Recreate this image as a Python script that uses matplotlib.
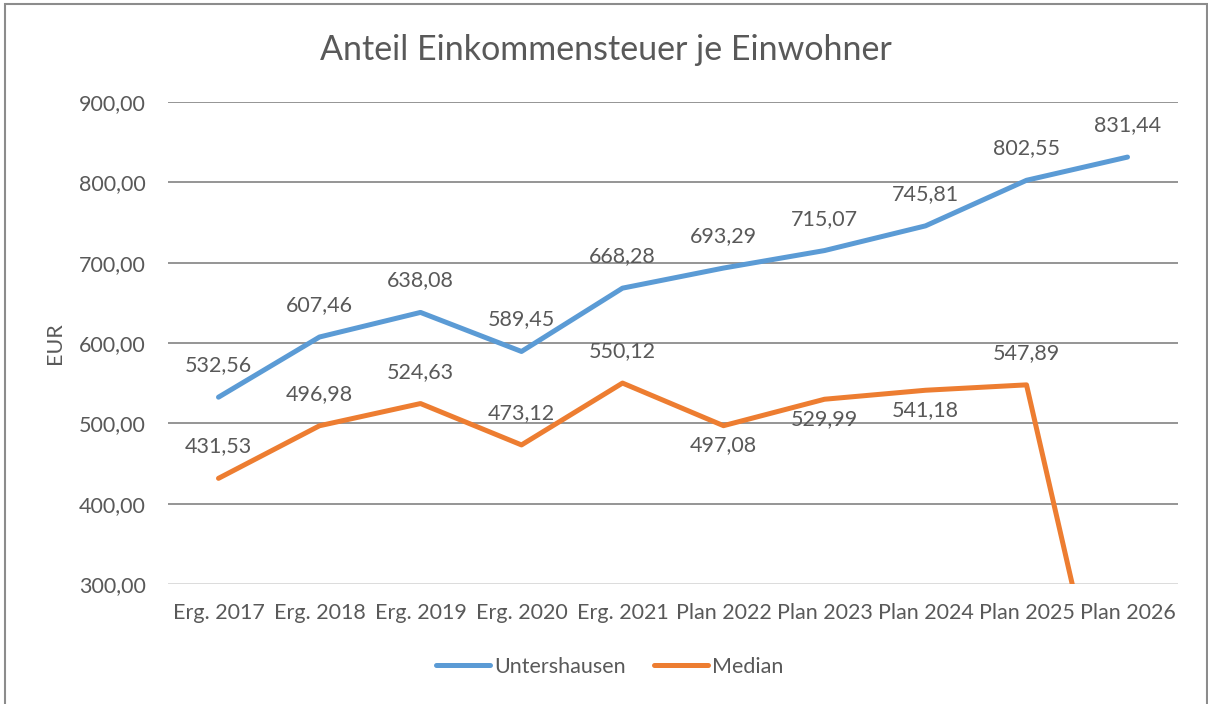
import matplotlib.pyplot as plt
from matplotlib.patches import Rectangle
from matplotlib.lines import Line2D

plt.rcParams['font.family'] = ['Lato', 'DejaVu Sans']

categories = ['Erg. 2017', 'Erg. 2018', 'Erg. 2019', 'Erg. 2020', 'Erg. 2021',
              'Plan 2022', 'Plan 2023', 'Plan 2024', 'Plan 2025', 'Plan 2026']
untershausen = [532.56, 607.46, 638.08, 589.45, 668.28,
                693.29, 715.07, 745.81, 802.55, 831.44]
median = [431.53, 496.98, 524.63, 473.12, 550.12,
          497.08, 529.99, 541.18, 547.89, 0.0]
y_ticks = [300, 400, 500, 600, 700, 800, 900]

TEXT = '#595959'
BLUE = '#5B9BD5'
ORANGE = '#ED7D31'
FS = 15.5


def fmt(v):
    return f'{v:.2f}'.replace('.', ',')


fig = plt.figure(figsize=(12.08, 7.04), dpi=100)
ax = fig.add_axes([168 / 1208, 1 - 584 / 704, (1178 - 168) / 1208, (584 - 102) / 704])

x = list(range(len(categories)))
ax.plot(x, untershausen, color=BLUE, lw=3.6, solid_capstyle='round', solid_joinstyle='round', zorder=3)
ax.plot(x, median, color=ORANGE, lw=3.6, solid_capstyle='round', solid_joinstyle='round', zorder=3)

ax.set_xlim(-0.5, len(categories) - 0.5)
ax.set_ylim(300, 900)
ax.set_yticks(y_ticks)
ax.set_yticklabels([fmt(v) for v in y_ticks])
ax.set_xticks(x)
ax.set_xticklabels(categories)
ax.tick_params(length=0, labelsize=FS, colors=TEXT)
ax.tick_params(axis='x', pad=14)
ax.tick_params(axis='y', pad=16)
for s in ax.spines.values():
    s.set_visible(False)
for t in y_ticks:
    c = '#D9D9D9' if t == 300 else '#8C8C8C'
    ax.axhline(t, color=c, lw=1.3, zorder=1)

ax.set_ylabel('EUR', fontsize=FS, color=TEXT, labelpad=10)

# data labels
for i, v in enumerate(untershausen):
    ax.annotate(fmt(v), (i, v), xytext=(0, 23), textcoords='offset points',
                ha='center', va='center', fontsize=FS, color=TEXT)
below = {5, 6, 7}
for i, v in enumerate(median):
    if v < 300:
        continue
    off = -14 if i in below else 23
    ax.annotate(fmt(v), (i, v), xytext=(0, off), textcoords='offset points',
                ha='center', va='center', fontsize=FS, color=TEXT)

fig.text(606 / 1208, 1 - 50 / 704, 'Anteil Einkommensteuer je Einwohner',
         ha='center', va='center', fontsize=24.5, color=TEXT)

handles = [Line2D([], [], color=BLUE, lw=3.6, solid_capstyle='round'),
           Line2D([], [], color=ORANGE, lw=3.6, solid_capstyle='round')]
fig.legend(handles, ['Untershausen', 'Median'], loc='center',
           bbox_to_anchor=(610 / 1208, 1 - 667 / 704), ncol=2, frameon=False,
           fontsize=FS, labelcolor=TEXT, handlelength=2.5, handletextpad=0.2,
           columnspacing=1.3)

# chart border
fig.add_artist(Rectangle((5 / 1208, -0.1), (1207 - 5) / 1208, 1.1 - 4 / 704,
                         transform=fig.transFigure, fill=False,
                         edgecolor='#8C8C8C', lw=1.5))

fig.savefig('out.png', dpi=100)
